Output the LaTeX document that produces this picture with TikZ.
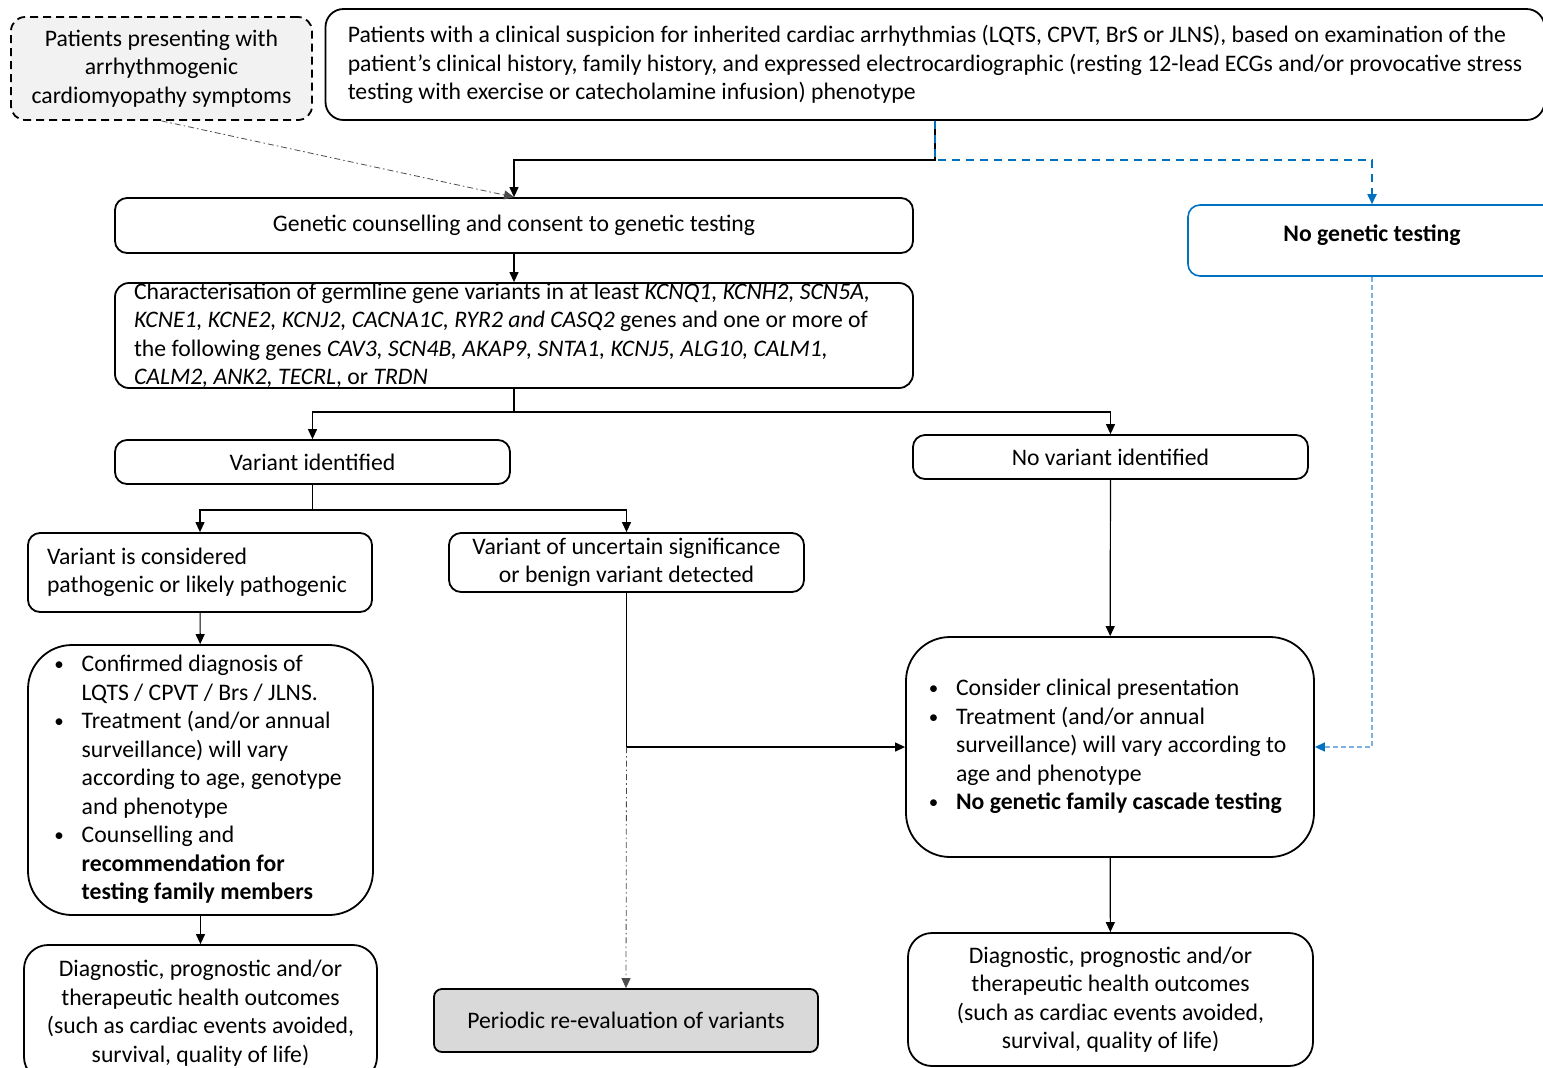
\documentclass[tikz,border=0pt]{standalone}
\usepackage{fontspec}
\setmainfont{Carlito}
\usetikzlibrary{arrows.meta, positioning}
\definecolor{cblue}{HTML}{0070C0}
\definecolor{lblue}{HTML}{7EB0DE}
\definecolor{palegrey}{HTML}{F2F2F2}
\definecolor{midgrey}{HTML}{D9D9D9}
\newcommand{\bul}{\makebox[0pt][c]{\raisebox{0.5pt}{\fontsize{9.5}{9.5}\selectfont\textbullet}}\makebox[11.25pt]{}}

\begin{document}
\begin{tikzpicture}[
  x=0.5pt, y=-0.5pt,
  font=\fontsize{11.85}{14.25}\selectfont,
  box/.style={draw, line width=0.9pt, rounded corners=6pt, inner sep=0pt, align=center},
  bigbox/.style={box, rounded corners=22pt},
  arr/.style={-{Triangle[length=5pt, width=4.5pt]}, line width=0.6pt},
  arrdd/.style={arr, gray!60!black, line width=0.4pt,
                dash pattern=on 3pt off 1.5pt on 0.8pt off 1.5pt},
  arrblue/.style={-{Triangle[length=5pt, width=4.5pt]}, cblue, line width=0.9pt,
                  dash pattern=on 4pt off 3pt},
  arrdot/.style={-{Triangle[length=5pt, width=4.5pt, color=cblue]}, lblue,
                 line width=0.8pt, dash pattern=on 2.5pt off 1.5pt}
]
\useasboundingbox (0,0) rectangle (1543,1067);

% top row
\node[box, dashed, dash pattern=on 4pt off 2.5pt, fill=palegrey, rounded corners=7pt,
      minimum width=150.5pt, minimum height=51.5pt] (sym) at (161.5,68.5)
  {Patients presenting with\\arrhythmogenic\\cardiomyopathy symptoms};
\node[box, align=flush left, rounded corners=9pt, minimum width=609.5pt, minimum height=55.5pt]
  (susp) at (935,64.5)
  {Patients with a clinical suspicion for inherited cardiac arrhythmias (LQTS, CPVT, BrS or JLNS), based on examination of the\\
   patient’s clinical history, family history, and expressed electrocardiographic (resting 12-lead ECGs and/or provocative stress\\
   testing with exercise or catecholamine infusion) phenotype};

% counselling and testing
\node[box, minimum width=399pt, minimum height=27.5pt] (coun) at (514,225.5)
  {Genetic counselling and consent to genetic testing};
\node[box, draw=cblue, line width=0.8pt, minimum width=184pt, minimum height=35.5pt,
      text height=6.5pt, text depth=5.5pt] (nogen) at (1372,240.5)
  {\textbf{No genetic testing}};
\node[box, align=flush left, rounded corners=7pt, text width=380pt,
      minimum width=399pt, minimum height=52.5pt] (gene) at (514,335.5)
  {Characterisation of germline gene variants in at least \textit{KCNQ1, KCNH2, SCN5A,}\\
   \textit{KCNE1, KCNE2, KCNJ2, CACNA1C, RYR2 and CASQ2} genes and one or more of\\
   the following genes \textit{CAV3, SCN4B, AKAP9, SNTA1, KCNJ5, ALG10, CALM1,}\\
   \textit{CALM2, ANK2, TECRL}, or \textit{TRDN}};

% results
\node[box, minimum width=197.5pt, minimum height=22pt] (var) at (312.5,462)
  {Variant identified};
\node[box, minimum width=197.5pt, minimum height=22pt] (novar) at (1110.5,457)
  {No variant identified};
\node[box, align=flush left, text width=153pt, minimum width=172pt, minimum height=39.5pt]
  (path) at (200,572.5)
  {Variant is considered\\pathogenic or likely pathogenic};
\node[box, minimum width=177.5pt, minimum height=29.5pt] (vus) at (626.5,562.5)
  {Variant of uncertain significance\\or benign variant detected};

% consequences
\node[bigbox, minimum width=172.5pt, minimum height=135pt] (conf) at (200.5,780)
  {\begin{tabular}{@{}l@{}l@{}}
   \bul & Confirmed diagnosis of\\
        & LQTS / CPVT / Brs / JLNS.\\
   \bul & Treatment (and/or annual\\
        & surveillance) will vary\\
        & according to age, genotype\\
        & and phenotype\\
   \bul & Counselling and\\
        & \textbf{recommendation for}\\
        & \textbf{testing family members}
   \end{tabular}};
\node[bigbox, minimum width=204pt, minimum height=110pt] (cons) at (1110,747)
  {\begin{tabular}{@{}l@{}l@{}}
   \bul & Consider clinical presentation\\
   \bul & Treatment (and/or annual\\
        & surveillance) will vary according to\\
        & age and phenotype\\
   \bul & \textbf{No genetic family cascade testing}
   \end{tabular}};

% outcomes
\node[box, rounded corners=12pt, minimum width=176.5pt, minimum height=68pt] (out1) at (200.5,1013)
  {Diagnostic, prognostic and/or\\therapeutic health outcomes\\(such as cardiac events avoided,\\survival, quality of life)};
\node[box, fill=midgrey, rounded corners=4pt, minimum width=192pt, minimum height=31.5pt]
  (peri) at (626,1020.5)
  {Periodic re-evaluation of variants};
\node[box, rounded corners=12pt, minimum width=202.5pt, minimum height=66.5pt] (out2) at (1110.5,999.5)
  {Diagnostic, prognostic and/or\\therapeutic health outcomes\\(such as cardiac events avoided,\\survival, quality of life)};

% connectors
\draw[arrdd] (sym.south) -- (coun.north);
\draw[arr] (susp.south) -- ++(0,39) -| (coun.north);
\draw[arrblue] (susp.south) -- ++(0,39) -| (nogen.north);
\draw[arr] (coun) -- (gene);
\draw[arr] (gene.south) -- ++(0,23) -| (var.north);
\draw[arr] (gene.south) -- ++(0,23) -| (novar.north);
\draw[arr] (var.south) -- ++(0,25) -| (path.north);
\draw[arr] (var.south) -- ++(0,25) -| (vus.north);
\draw[arr] (path) -- (conf);
\draw[arr] (conf) -- (out1);
\coordinate (split) at (vus.south |- cons.west);
\draw[arr] (vus.south) -- (split) -- (cons.west);
\draw[arrdd] (split) -- (peri.north);
\draw[arr] (novar) -- (cons);
\draw[arr] (cons) -- (out2);
\draw[arrdot] (nogen.south) |- (cons.east);
\end{tikzpicture}
\end{document}
